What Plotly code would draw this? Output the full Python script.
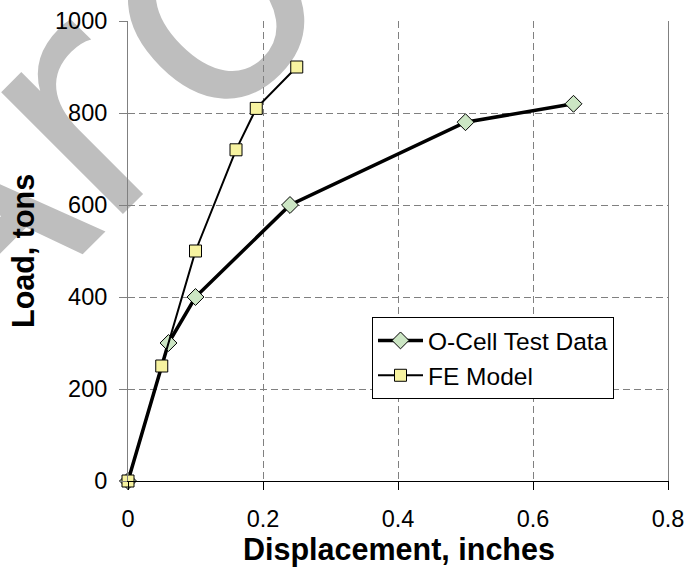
import base64
import plotly.graph_objects as go

# data
ocell_disp = [0, 0.06, 0.10, 0.24, 0.50, 0.66]
ocell_load = [0, 300, 400, 600, 780, 820]
fe_disp = [0, 0.05, 0.10, 0.16, 0.19, 0.25]
fe_load = [0, 250, 500, 720, 810, 900]

x_ticks = [0, 0.2, 0.4, 0.6, 0.8]
x_tick_text = ['0', '0.2', '0.4', '0.6', '0.8']
y_ticks = [0, 200, 400, 600, 800, 1000]
y_tick_text = ['0', '200', '400', '600', '800', '1000']

WIDTH: int = 687
HEIGHT: int = 575
MARGIN = dict(l=128, r=19, t=21, b=94)
FONT: str = 'Arial, Liberation Sans, sans-serif'
GRID_COLOR: str = '#808080'
GREEN: str = '#CCE6C4'
YELLOW: str = '#F7F3A0'
WATERMARK: str = '#BEBEBE'

plot_w = WIDTH - MARGIN['l'] - MARGIN['r']
plot_h = HEIGHT - MARGIN['t'] - MARGIN['b']


def px_x(px: float) -> float:
    return (px - MARGIN['l']) / plot_w


def px_y(px: float) -> float:
    return (HEIGHT - MARGIN['b'] - px) / plot_h


# big grey watermark letters behind the chart, on a baseline tilted 45 degrees
svg = (
    f'<svg xmlns="http://www.w3.org/2000/svg" width="{WIDTH}" height="{HEIGHT}">'
    '<g transform="translate(168.5 168.5) rotate(-45)" '
    f'font-family="DejaVu Sans" font-size="315" fill="{WATERMARK}">'
    '<text x="-302" y="0">A</text>'
    '<text x="-93" y="0">r</text>'
    '<text x="49" y="8">o</text>'
    '</g></svg>'
)
svg_uri = 'data:image/svg+xml;base64,' + base64.b64encode(svg.encode()).decode()

fig = go.Figure()
fig.add_trace(go.Scatter(
    x=ocell_disp, y=ocell_load, name='O-Cell Test Data',
    mode='lines+markers', cliponaxis=False,
    line=dict(color='black', width=3.5),
    marker=dict(symbol='diamond', size=13, color=GREEN,
                line=dict(color='black', width=1)),
))
fig.add_trace(go.Scatter(
    x=fe_disp, y=fe_load, name='FE Model',
    mode='lines+markers', cliponaxis=False,
    line=dict(color='black', width=2),
    marker=dict(symbol='square', size=12, color=YELLOW,
                line=dict(color='black', width=1)),
))

fig.update_layout(
    width=WIDTH, height=HEIGHT,
    margin=MARGIN,
    paper_bgcolor='white',
    plot_bgcolor='white',
    font=dict(family=FONT, color='black', size=23.5),
    showlegend=True,
    legend=dict(
        x=px_x(372), y=px_y(317), xanchor='left', yanchor='top',
        bgcolor='white', bordercolor='black', borderwidth=1,
        font=dict(size=24.5), itemwidth=45, tracegroupgap=0,
    ),
    xaxis=dict(
        range=[0, 0.8], tickvals=x_ticks, ticktext=x_tick_text,
        showline=True, linecolor='black', linewidth=1,
        ticks='outside', ticklen=8, tickcolor='black', ticklabelstandoff=9,
        showgrid=True, gridcolor=GRID_COLOR, griddash='7px,4px', gridwidth=1,
        zeroline=False, fixedrange=True, automargin=False,
    ),
    yaxis=dict(
        range=[0, 1000], tickvals=y_ticks, ticktext=y_tick_text,
        showline=True, mirror=True, linecolor=GRID_COLOR, linewidth=1,
        ticks='outside', ticklen=8, tickcolor=GRID_COLOR, ticklabelstandoff=7,
        showgrid=True, gridcolor=GRID_COLOR, griddash='7px,4px', gridwidth=1,
        zeroline=False, fixedrange=True, automargin=False,
    ),
    images=[dict(
        source=svg_uri, xref='paper', yref='paper',
        x=px_x(0), y=px_y(0), sizex=WIDTH / plot_w, sizey=HEIGHT / plot_h,
        xanchor='left', yanchor='top', sizing='stretch', layer='below',
    )],
    annotations=[
        dict(text='<b>Displacement, inches</b>', xref='paper', yref='paper',
             x=px_x(399), y=px_y(549), xanchor='center', yanchor='middle',
             showarrow=False, font=dict(size=30.5)),
        dict(text='<b>Load, tons</b>', xref='paper', yref='paper',
             x=px_x(23), y=px_y(251), xanchor='center', yanchor='middle',
             textangle=-90, showarrow=False, font=dict(size=30.5)),
    ],
)

# drop the default page margin so the figure fills the window
fig.write_html('out.html', config={'displayModeBar': False},
               post_script="document.body.style.margin='0';")
